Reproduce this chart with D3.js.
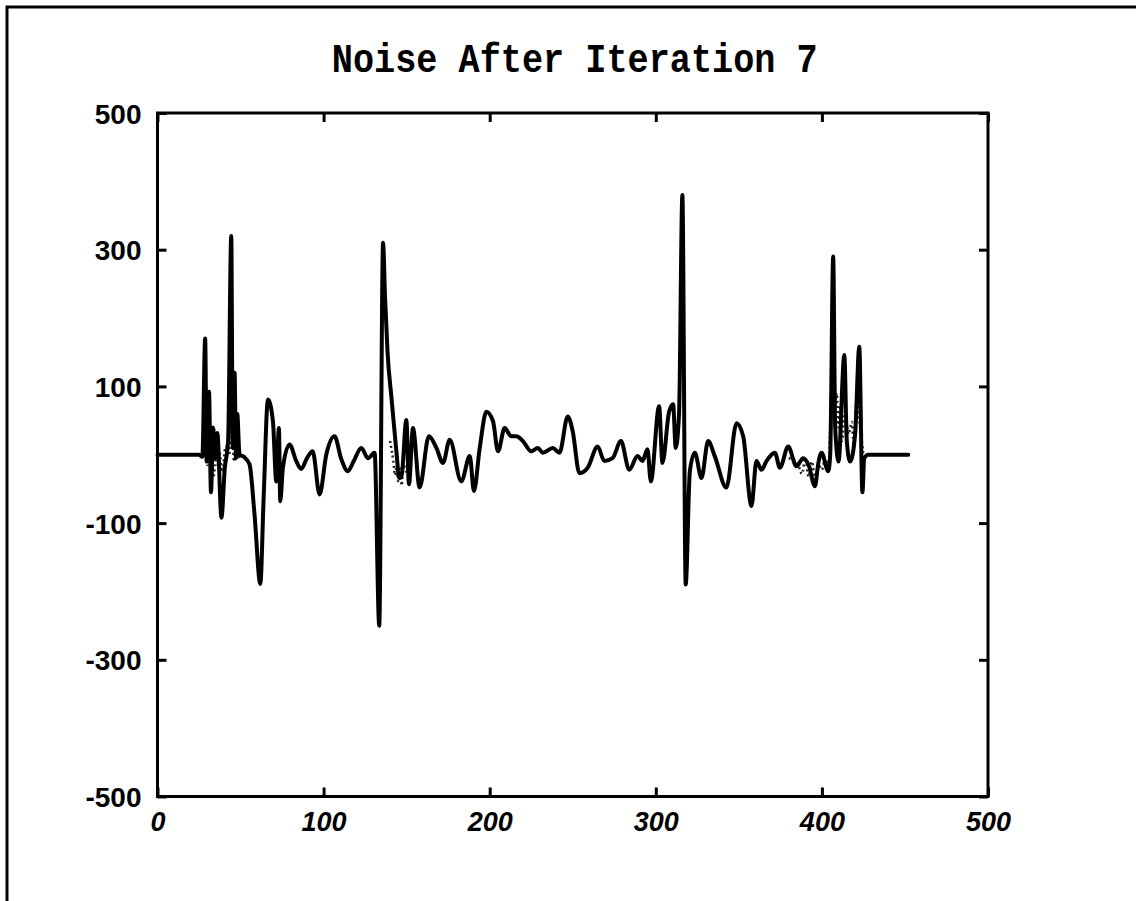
<!DOCTYPE html>
<html>
<head>
<meta charset="utf-8">
<script src="https://cdn.jsdelivr.net/npm/d3@7"></script>
<style>
  html, body { margin: 0; padding: 0; background: #fff; }
  svg { display: block; }
</style>
</head>
<body>
<svg id="chart" width="1136" height="901"></svg>
<script>
// ---- data ----
const titleText = "Noise After Iteration 7";
const xTicks = [0, 100, 200, 300, 400, 500];
const yTicks = [-500, -300, -100, 100, 300, 500];
const xDomain = [0, 500];
const yDomain = [-500, 500];

// main (solid) noise trace: sample index
const noiseX = [0,25,27,28.7,29.6,31,32.2,33.5,34.8,36,38.5,40.5,42.5,44.4,45.3,46.4,47.3,48,49.4,52,55.4,58.4,61.9,63.9,66.5,69.5,71.5,73.1,73.9,75.5,79.5,83.5,86.5,90,93.4,97.6,101.6,106.6,110.6,114.6,118,122.7,126.7,130.7,133.5,135.8,137,138.5,141,144,145.5,147,149.8,151.4,153.8,157.8,163.4,167.9,171.9,175.9,182.9,188,190.5,194,198,202,205,209,213,216,220,225,229,232,238,242,247,250,254,259,265,269,274,279,284,289,292,295,297,302,304,308,310.4,312,314,316,318,320.5,323.5,327.5,331.5,335.5,342.5,348.6,352.6,357.6,360.6,363.6,366.7,371.7,374.7,379.7,384.7,388.7,392,395.8,398,399.8,403.8,405,406.8,408,410,413.5,415,417,420,422.5,424.4,425.5,428,452];
// main (solid) noise trace: value
const noiseY = [0,0,-3,170,-10,92,-55,40,-5,32,-92,-20,20,320,10,120,-5,60,0,-3,-14,-87,-189,-63,81,49,-39,39,-68,-19,15,-9,-21,-5,5,-58,0,27,-6,-24,-10,10,-5,3,-250,310,230,150,80,0,-34,-30,51,-43,39,-48,27,10,-12,22,-39,-2,-53,10,63,49,5,39,27,27,20,5,10,3,10,3,56,34,-27,-19,12,-9,-5,20,-22,-2,-9,8,-39,71,-12,63,74,10,60,380,-190,-24,3,-34,20,-2,-48,46,27,-75,-9,-22,-9,3,-19,12,-17,-5,-15,-46,-10,3,-24,0,290,40,-10,146,20,-10,30,158,-55,-5,0,0];

// secondary (dotted) trace in the burst regions (null = gap between bursts)
const dotX = [26,27.5,29,30,31,32,33,34,35,36,37,39,41,43,45,46,47,48,50, 51, 140,142,143,144,145,146,147,148,150,152, 153, 380,385,388,390,392,394,396,398,400,402,404,406,407,409,410,411,412,414,416,418,419,421,423,425];
const dotY = [0,5,25,-15,35,-25,20,-30,10,-15,8,-25,12,0,35,-10,18,-5,0, null, 20,-10,-30,-15,-40,-20,-45,-15,-25,0, null, -5,-10,-28,-5,-32,-10,-38,-15,-22,-5,-18,100,55,90,40,70,20,62,30,48,18,80,40,0];

// ---- layout ----
const svg = d3.select("#chart");
const L = 157.5, R = 988, T = 113, B = 796.5;
const x = d3.scaleLinear().domain(xDomain).range([L, R]);
const y = d3.scaleLinear().domain(yDomain).range([B, T]);

// scanned page border (left and top edges)
svg.append("path")
  .attr("d", `M7,901 V7 H1136`)
  .attr("fill", "none").attr("stroke", "#000").attr("stroke-width", 3);

// title
svg.append("text")
  .attr("x", (L + R) / 2 + 2).attr("y", 72)
  .attr("text-anchor", "middle")
  .attr("font-family", "'Liberation Mono', 'DejaVu Sans Mono', monospace")
  .attr("font-weight", "bold")
  .attr("font-size", 41)
  .attr("textLength", 486)
  .attr("lengthAdjust", "spacingAndGlyphs")
  .text(titleText);

// axes: ticks inward on all four sides
const fmtMinus = d => (d < 0 ? "-" + Math.abs(d) : String(d));

const gLeft = svg.append("g").attr("transform", `translate(${L},0)`)
  .call(d3.axisLeft(y).tickValues(yTicks).tickSizeInner(-9).tickSizeOuter(0).tickPadding(16).tickFormat(fmtMinus));
const gRight = svg.append("g").attr("transform", `translate(${R},0)`)
  .call(d3.axisRight(y).tickValues(yTicks).tickSizeInner(-9).tickSizeOuter(0).tickFormat(""));
const gBottom = svg.append("g").attr("transform", `translate(0,${B})`)
  .call(d3.axisBottom(x).tickValues(xTicks).tickSizeInner(-9).tickSizeOuter(0).tickPadding(14).tickFormat(fmtMinus));
const gTop = svg.append("g").attr("transform", `translate(0,${T})`)
  .call(d3.axisTop(x).tickValues(xTicks).tickSizeInner(-9).tickSizeOuter(0).tickFormat(""));

[gLeft, gRight, gBottom, gTop].forEach(g => {
  g.select(".domain").remove();
  g.selectAll(".tick line").attr("stroke", "#000").attr("stroke-width", 3);
});

gLeft.selectAll(".tick text")
  .attr("font-family", "'Liberation Sans', Arial, sans-serif")
  .attr("font-weight", "bold")
  .attr("font-size", 28)
  .attr("fill", "#000")
  .attr("dy", "0.36em");

gBottom.selectAll(".tick text")
  .attr("font-family", "'Liberation Sans', Arial, sans-serif")
  .attr("font-weight", "bold")
  .attr("font-style", "italic")
  .attr("font-size", 27)
  .attr("fill", "#000")
  .attr("dy", "0.75em");

// plot frame
svg.append("rect")
  .attr("x", L).attr("y", T).attr("width", R - L).attr("height", B - T)
  .attr("fill", "none").attr("stroke", "#000").attr("stroke-width", 3);

// series
const solid = noiseX.map((d, i) => [d, noiseY[i]]);
const dotted = dotX.map((d, i) => [d, dotY[i]]);

const line = d3.line()
  .defined(d => d[1] !== null)
  .curve(d3.curveMonotoneX)
  .x(d => x(d[0])).y(d => y(d[1]));

svg.append("path")
  .datum(dotted)
  .attr("d", line)
  .attr("fill", "none")
  .attr("stroke", "#222")
  .attr("stroke-width", 2.5)
  .attr("stroke-dasharray", "2,3");

svg.append("path")
  .datum(solid)
  .attr("d", line)
  .attr("fill", "none")
  .attr("stroke", "#000")
  .attr("stroke-width", 4)
  .attr("stroke-linejoin", "round")
  .attr("stroke-linecap", "round");
</script>
</body>
</html>
